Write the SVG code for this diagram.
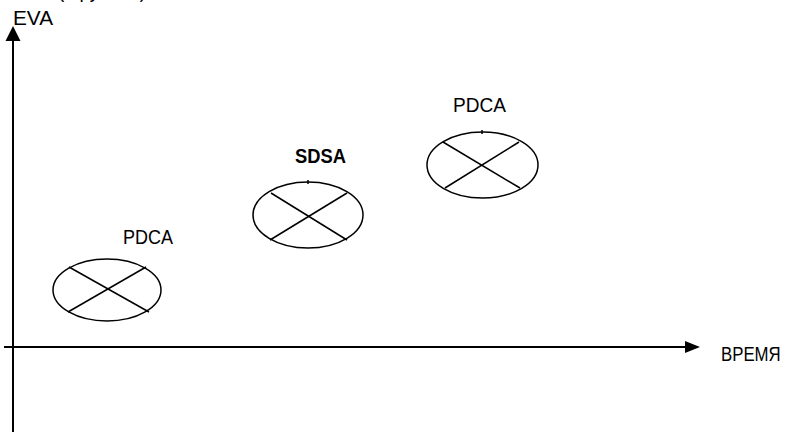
<svg xmlns="http://www.w3.org/2000/svg" width="786" height="432" viewBox="0 0 786 432">
<style>
text{font-family:"Liberation Sans",Arial,sans-serif;font-size:21px;fill:#000}
.b{font-weight:bold}
.ax{stroke:#000;stroke-width:2;fill:none}
.el{stroke:#000;stroke-width:1.5;fill:#fff}
.x{stroke:#000;stroke-width:1.5}
</style>
<rect width="786" height="432" fill="#fff"/>
<g id="axes">
<line class="ax" x1="13" y1="432" x2="13" y2="40"/>
<path d="M13,26 L20.5,41 L5.5,41 Z" fill="#000"/>
<line class="ax" x1="4" y1="347" x2="686" y2="347"/>
<path d="M700,347 L685,341 L685,353 Z" fill="#000"/>
</g>
<g id="labels">
<text x="58" y="-2" textLength="88" lengthAdjust="spacingAndGlyphs">(в рублях)</text>
<text x="13" y="25" textLength="40" lengthAdjust="spacingAndGlyphs">EVA</text>
<text transform="translate(721,361) scale(0.8,1)">ВРЕМЯ</text>
</g>
<g id="node-pdca1">
<ellipse class="el" cx="107" cy="290" rx="54" ry="31"/>
<line class="x" x1="69" y1="267" x2="149" y2="312"/>
<line class="x" x1="146" y1="267" x2="68" y2="312"/>
<text x="123" y="244" textLength="50" lengthAdjust="spacingAndGlyphs">PDCA</text>
</g>
<g id="node-sdsa">
<ellipse class="el" cx="308" cy="215" rx="55" ry="33"/>
<line class="x" x1="308" y1="180" x2="308" y2="184"/>
<line class="x" x1="271" y1="193" x2="347" y2="240"/>
<line class="x" x1="347" y1="193" x2="270" y2="240"/>
<text class="b" x="295" y="163" textLength="51" lengthAdjust="spacingAndGlyphs">SDSA</text>
</g>
<g id="node-pdca2">
<ellipse class="el" cx="482.5" cy="165" rx="55.5" ry="33"/>
<line class="x" x1="482" y1="130" x2="482" y2="134"/>
<line class="x" x1="443" y1="142" x2="520" y2="188"/>
<line class="x" x1="519" y1="142" x2="445" y2="188"/>
<text x="453" y="112" textLength="53" lengthAdjust="spacingAndGlyphs">PDCA</text>
</g>
</svg>
